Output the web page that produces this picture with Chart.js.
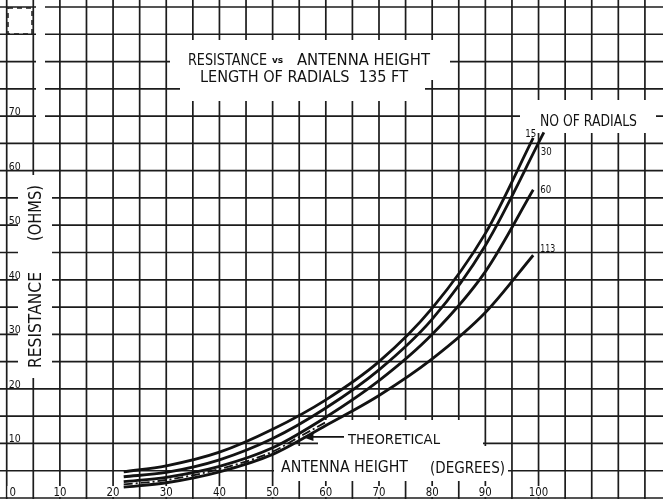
<!DOCTYPE html>
<html>
<head>
<meta charset="utf-8">
<script src="https://cdn.jsdelivr.net/npm/chart.js@4.4.1/dist/chart.umd.min.js"></script>
<style>
  html, body { margin: 0; padding: 0; background: #fff; }
  canvas { display: block; }
</style>
</head>
<body>
<canvas id="chart" width="663" height="499"></canvas>
<script>
// Antenna height in degrees at which each curve was read
const heights   = [22, 30, 40, 50, 60, 70, 80, 90, 99];
const heights30 = [22, 30, 40, 50, 60, 70, 80, 90, 101];
const theoHeights = [22, 30, 40, 50, 55, 60];

// Base resistance (ohms) for each number of radials
const radials15  = [4.8, 5.9, 8.4, 12.6, 18.0, 25.0, 34.8, 48.5, 66.0];
const radials30  = [3.9, 4.7, 7.0, 10.9, 16.5, 23.5, 32.8, 46.3, 67.0];
const radials60  = [3.0, 3.8, 5.8, 9.2, 14.8, 21.5, 30.0, 41.5, 56.5];
const radials113 = [2.0, 2.8, 4.8, 8.0, 13.3, 18.8, 25.5, 34.0, 44.5];
const theoretical = [2.5, 3.3, 5.3, 8.5, 11.2, 13.9];

const curveNames = ['15', '30', '60', '113'];

// Tick labels printed on the sheet
const xTickValues = [0, 10, 20, 30, 40, 50, 60, 70, 80, 90, 100];
const yTickValues = [10, 20, 30, 40, 50, 60, 70];

// Graph paper ruling: one line every 5 units
const gridStep = 5;
const xGridMax = 120;
const yGridMax = 90;

const pts = (xs, ys) => xs.map((x, i) => ({ x, y: ys[i] }));

const INK = '#121212';
const GRID = '#1c1c1c';
const FONT = '"DejaVu Sans", "Liberation Sans", sans-serif';

// text squeezed or stretched to a given width, like hand lettering
function letter(ctx, str, left, base, width, size) {
  ctx.save();
  ctx.font = size + 'px ' + FONT;
  ctx.textAlign = 'left';
  ctx.textBaseline = 'alphabetic';
  const w = ctx.measureText(str).width;
  ctx.translate(left, base);
  ctx.scale(width / w, 1);
  ctx.fillText(str, 0, 0);
  ctx.restore();
}

// blank paper areas where the lettering sits (x, y, w, h)
const paperPatches = [
  [170, 40, 280, 40],
  [180, 80, 245, 21],
  [520, 100, 136, 33],
  [18, 175, 34, 203],
  [318, 420, 165, 26],
  [274, 446, 234, 35],
  [36, 0, 9, 125],
  [9, 9, 22, 24]
];

const sheetPlugin = {
  id: 'sheet',
  beforeDatasetsDraw(chart) {
    const ctx = chart.ctx;
    const xs = chart.scales.x, ys = chart.scales.y;
    const W = chart.width, H = chart.height;
    ctx.save();

    // ruled grid from the scales
    ctx.strokeStyle = GRID;
    ctx.lineWidth = 1.7;
    ctx.beginPath();
    for (let v = 0; v <= xGridMax; v += gridStep) {
      const x = xs.getPixelForValue(v);
      ctx.moveTo(x, 0);
      ctx.lineTo(x, H);
    }
    for (let v = 0; v <= yGridMax; v += gridStep) {
      const y = ys.getPixelForValue(v);
      ctx.moveTo(0, y);
      ctx.lineTo(W, y);
    }
    ctx.stroke();

    ctx.fillStyle = '#fff';
    paperPatches.forEach(([x, y, w, h]) => ctx.fillRect(x, y, w, h));

    // broken corner box at the top left
    ctx.strokeStyle = GRID;
    ctx.lineWidth = 1.5;
    ctx.setLineDash([5, 4]);
    ctx.strokeRect(8, 8, 24, 26);
    ctx.setLineDash([]);

    // x tick labels along the bottom row, on white
    ctx.font = '12px ' + FONT;
    xTickValues.forEach(v => {
      const label = String(v);
      const w = ctx.measureText(label).width * 0.85;
      const cx = v === 0 ? xs.getPixelForValue(v) + 6 : xs.getPixelForValue(v);
      ctx.fillStyle = '#fff';
      ctx.fillRect(cx - w / 2 - 2, ys.getPixelForValue(0) - 12, w + 4, 11);
      ctx.fillStyle = INK;
      letter(ctx, label, cx - w / 2, ys.getPixelForValue(0) - 2, w, 12);
    });
    ctx.restore();
  },
  afterDatasetsDraw(chart) {
    const ctx = chart.ctx;
    const xs = chart.scales.x, ys = chart.scales.y;
    ctx.save();
    ctx.fillStyle = INK;

    // y tick labels sitting just above their lines
    yTickValues.forEach(v => {
      letter(ctx, String(v), xs.getPixelForValue(0) + 2, ys.getPixelForValue(v) - 1, 12, 10);
    });

    // title block
    letter(ctx, 'RESISTANCE', 188, 65, 79, 16);
    ctx.save();
    ctx.font = 'bold 9px ' + FONT;
    ctx.fillText('vs', 272, 63);
    ctx.restore();
    letter(ctx, 'ANTENNA HEIGHT', 297, 65, 133, 16);
    letter(ctx, 'LENGTH OF RADIALS  135 FT', 200, 82, 208, 16);

    // legend heading and curve names next to the line ends
    letter(ctx, 'NO OF RADIALS', 540, 126, 97, 15);
    const nameOffsets = [[-8, -1], [-3, 23], [7, 3], [7, -3]];
    chart.data.datasets.slice(0, 4).forEach((ds, i) => {
      const last = ds.data[ds.data.length - 1];
      const ex = xs.getPixelForValue(last.x), ey = ys.getPixelForValue(last.y);
      const label = curveNames[i];
      const w = label.length === 3 ? 15 : 11;
      letter(ctx, label, ex + nameOffsets[i][0], ey + nameOffsets[i][1], w, 10);
    });

    // theoretical curve call-out with arrow
    letter(ctx, 'THEORETICAL', 348, 444, 92, 14);
    const tipX = xs.getPixelForValue(55.6), tipY = ys.getPixelForValue(11.2);
    ctx.strokeStyle = INK;
    ctx.lineWidth = 1.6;
    ctx.beginPath();
    ctx.moveTo(344, tipY);
    ctx.lineTo(tipX + 8, tipY);
    ctx.stroke();
    ctx.beginPath();
    ctx.moveTo(tipX, tipY);
    ctx.lineTo(tipX + 11, tipY - 4);
    ctx.lineTo(tipX + 11, tipY + 4);
    ctx.closePath();
    ctx.fill();

    // axis titles
    letter(ctx, 'ANTENNA HEIGHT', 281, 472, 127, 16);
    letter(ctx, '(DEGREES)', 430, 473, 75, 16);

    ctx.save();
    ctx.translate(41, 368);
    ctx.rotate(-Math.PI / 2);
    letter(ctx, 'RESISTANCE', 0, 0, 96, 17);
    ctx.restore();
    ctx.save();
    ctx.translate(41, 241);
    ctx.rotate(-Math.PI / 2);
    letter(ctx, '(OHMS)', 0, 0, 56, 17);
    ctx.restore();

    ctx.restore();
  }
};

const curveStyle = {
  borderColor: INK,
  borderWidth: 2.8,
  pointRadius: 0,
  fill: false,
  cubicInterpolationMode: 'monotone'
};

new Chart(document.getElementById('chart'), {
  type: 'line',
  data: {
    datasets: [
      { label: '15', data: pts(heights, radials15), ...curveStyle },
      { label: '30', data: pts(heights30, radials30), ...curveStyle },
      { label: '60', data: pts(heights, radials60), ...curveStyle },
      { label: '113', data: pts(heights, radials113), ...curveStyle },
      { label: 'Theoretical', data: pts(theoHeights, theoretical), ...curveStyle,
        borderWidth: 1.8, borderDash: [9, 3, 2, 3] }
    ]
  },
  options: {
    responsive: false,
    animation: false,
    devicePixelRatio: 1,
    layout: { padding: 0 },
    plugins: { legend: { display: false }, tooltip: { enabled: false } },
    scales: {
      x: { type: 'linear', display: false, min: -1.26, max: 123.4 },
      y: { type: 'linear', display: false, min: -0.18, max: 91.28 }
    }
  },
  plugins: [sheetPlugin]
});
</script>
</body>
</html>
